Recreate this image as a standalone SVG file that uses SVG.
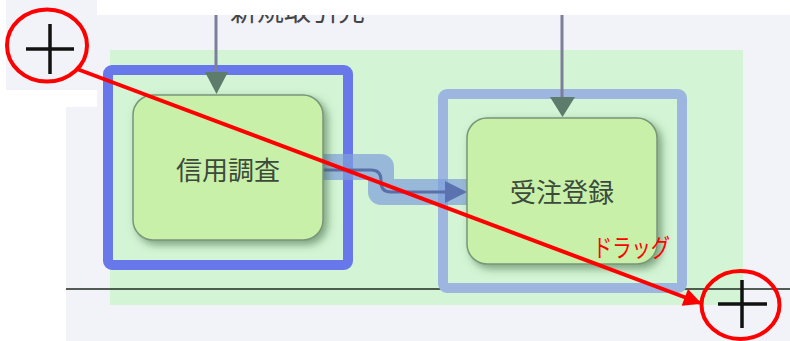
<svg xmlns="http://www.w3.org/2000/svg" width="790" height="341" viewBox="0 0 790 341">
<defs>
<filter id="sh" x="-20%" y="-20%" width="150%" height="150%">
<feDropShadow dx="4" dy="4" stdDeviation="4" flood-color="#3f6a3f" flood-opacity="0.6"/>
</filter>
<marker id="ra" viewBox="0 0 10 10" refX="9" refY="5" markerWidth="5.5" markerHeight="4.5" orient="auto">
<path d="M0,0 L10,5 L0,10 z" fill="#ff0000"/>
</marker>
</defs>
<style>
.node rect{fill:#c8f0a8;stroke:#7a957a;stroke-width:1.5}
.node text{font-family:"Noto Sans CJK JP","Noto Sans",sans-serif;font-size:26px;fill:#3c4a3c;text-anchor:middle}
.flow{fill:none;stroke:#7d7f9a;stroke-width:3}
.red{fill:none;stroke:#ff0000;stroke-width:4}
.cross{stroke:#111;stroke-width:3.5}
</style>
<rect width="790" height="341" fill="#ffffff"/>
<rect x="66" y="15" width="724" height="326" fill="#f2f3f8"/>
<text x="230" y="21" font-family="Noto Sans CJK JP,sans-serif" font-size="27" fill="#444">新規取引先</text>
<rect x="97" y="0" width="693" height="15" fill="#ffffff"/>
<rect x="110" y="50" width="633" height="255" fill="#d3f5d5"/>
<line x1="66" y1="289" x2="790" y2="289" stroke="#1e2a1e" stroke-width="1.5"/>

<g id="frame-left">
<rect x="108" y="70" width="240" height="195" rx="4" fill="none" stroke="#6878ea" stroke-width="10"/>
</g>
<g id="frame-right">
<rect x="443" y="94" width="239" height="194" rx="4" fill="none" stroke="#9cb6e0" stroke-width="10"/>
</g>

<g id="connectors">
<path class="flow" d="M216,15 V72" />
<path d="M205,72 L228,72 L216.5,94 z" fill="#5e7c6c"/>
<path class="flow" d="M562,15 V97" />
<path d="M550,97 L575,97 L562.5,117 z" fill="#5e7c6c"/>
<path d="M323,167 H381 V192 H467" fill="none" stroke="#7f9edc" stroke-opacity="0.7" stroke-width="26" stroke-linejoin="round"/>
<path d="M323,170 H371 Q381,170 381,180 V182 Q381,192 391,192 H447" fill="none" stroke="#5a6ea8" stroke-width="3"/>
<path d="M445,181 L467,192 L445,203 z" fill="#5a73b0"/>
</g>

<g id="node-shinyo" class="node">
<rect x="133" y="95" width="190" height="145" rx="20" filter="url(#sh)"/>
<text x="228" y="180">信用調査</text>
</g>
<g id="node-juchu" class="node">
<rect x="467" y="118" width="190" height="146" rx="20" filter="url(#sh)"/>
<text x="562" y="202">受注登録</text>
</g>

<g id="annotation">
<rect x="0" y="0" width="97" height="107" fill="#ffffff"/>
<rect x="6" y="0" width="91" height="90" fill="#f2f3f8"/>
<line class="cross" x1="50" y1="24" x2="50" y2="74"/>
<line class="cross" x1="26" y1="49" x2="74" y2="49"/>
<ellipse class="red" cx="47" cy="45.5" rx="40" ry="36"/>
<line class="cross" x1="742" y1="280" x2="742" y2="328"/>
<line class="cross" x1="718" y1="304" x2="767" y2="304"/>
<ellipse class="red" cx="740.5" cy="305" rx="39" ry="34"/>
<path class="red" d="M77,69 L700,303" marker-end="url(#ra)"/>
<text x="593" y="257" font-family="Noto Sans CJK JP,sans-serif" font-size="25" fill="#ff0000" textLength="77" lengthAdjust="spacingAndGlyphs">ドラッグ</text>
</g>
</svg>
